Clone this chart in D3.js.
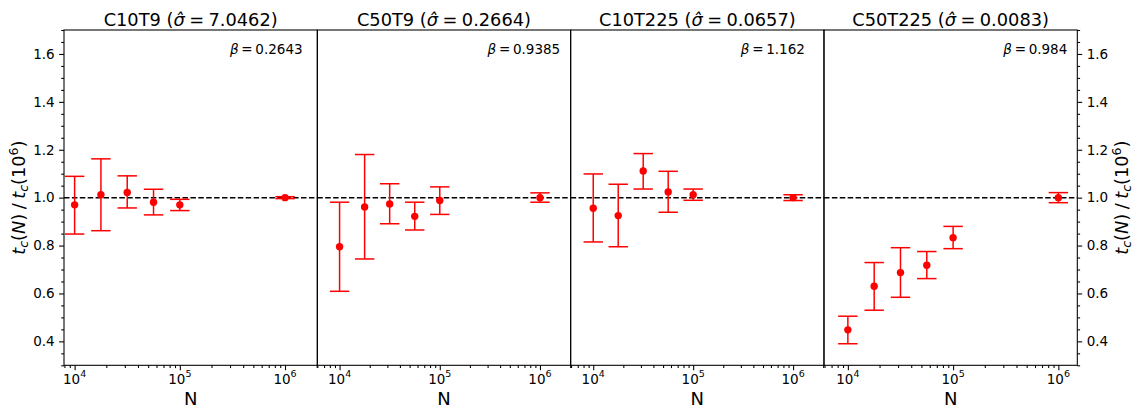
<!DOCTYPE html>
<html><head><meta charset="utf-8">
<script src="https://cdn.jsdelivr.net/npm/d3@7"></script>
<style>
body{margin:0;background:#fff}
svg{display:block}
text{font-family:"DejaVu Sans",sans-serif;fill:#000}
</style>
</head><body>
<svg id="c" width="1133" height="410"></svg>
<script>
// ---- data ----
const N = [1e4, 1.7783e4, 3.1623e4, 5.6234e4, 1e5, 1e6];
const panelNames = ["C10T9", "C50T9", "C10T225", "C50T225"];
const sigmaHat = ["7.0462", "0.2664", "0.0657", "0.0083"];
const betas = ["0.2643", "0.9385", "1.162", "0.984"];

const ratioC10T9   = [0.970, 1.012, 1.022, 0.981, 0.970, 1.000];
const lowC10T9     = [0.848, 0.862, 0.957, 0.928, 0.946, 0.996];
const highC10T9    = [1.089, 1.162, 1.091, 1.035, 0.993, 1.004];

const ratioC50T9   = [0.795, 0.961, 0.974, 0.922, 0.988, 1.000];
const lowC50T9     = [0.609, 0.744, 0.891, 0.865, 0.930, 0.981];
const highC50T9    = [0.981, 1.180, 1.058, 0.981, 1.045, 1.020];

const ratioC10T225 = [0.956, 0.925, 1.111, 1.024, 1.012, 1.000];
const lowC10T225   = [0.815, 0.795, 1.036, 0.939, 0.989, 0.988];
const highC10T225  = [1.099, 1.056, 1.184, 1.110, 1.036, 1.012];

const ratioC50T225 = [0.448, 0.630, 0.687, 0.718, 0.833, 1.000];
const lowC50T225   = [0.390, 0.530, 0.584, 0.662, 0.787, 0.979];
const highC50T225  = [0.505, 0.729, 0.791, 0.775, 0.880, 1.021];

const ratios = [ratioC10T9, ratioC50T9, ratioC10T225, ratioC50T225];
const lows   = [lowC10T9, lowC50T9, lowC10T225, lowC50T225];
const highs  = [highC10T9, highC50T9, highC10T225, highC50T225];

// axis limits (log10 of N) per panel
const xLimLog = [[3.899, 6.307], [3.778, 6.306], [3.774, 6.309], [3.773, 6.180]];
const yLim = [0.3, 1.7];
const yTicks = [0.4, 0.6, 0.8, 1.0, 1.2, 1.4, 1.6];
const xTicks = [1e4, 1e5, 1e6];
const xTickExp = ["4", "5", "6"];
const betaPos = [3e5, 1.6];
const refLine = 1.0;

(function () {
// ---- layout ----
const svg = d3.select("#c");
const plotLeft = 64, plotRight = 1077.3, plotTop = 30, plotBottom = 365.3;
const pw = (plotRight - plotLeft) / 4;
const red = "#ff0000";

const y = d3.scaleLinear().domain(yLim).range([plotBottom, plotTop]);

const yMinor = d3.range(0.3, 1.7001, 0.05).map(v => +v.toFixed(2))
  .filter(v => !yTicks.some(t => Math.abs(t - v) < 1e-6));

panelNames.forEach((name, i) => {
  const x0 = plotLeft + i * pw;
  const x = d3.scaleLog().domain([10 ** xLimLog[i][0], 10 ** xLimLog[i][1]]).range([x0, x0 + pw]);
  const g = svg.append("g");

  // reference dashed line
  g.append("line")
    .attr("x1", x0).attr("x2", x0 + pw)
    .attr("y1", y(refLine)).attr("y2", y(refLine))
    .attr("stroke", "#000").attr("stroke-width", 1.5)
    .attr("stroke-dasharray", "5.5,2.4");

  // error bars
  const cap = 9.7;
  const eb = g.append("g").attr("stroke", red).attr("stroke-width", 1.5);
  N.forEach((n, j) => {
    const cx = x(n);
    eb.append("line").attr("x1", cx).attr("x2", cx).attr("y1", y(lows[i][j])).attr("y2", y(highs[i][j]));
    eb.append("line").attr("x1", cx - cap).attr("x2", cx + cap).attr("y1", y(lows[i][j])).attr("y2", y(lows[i][j]));
    eb.append("line").attr("x1", cx - cap).attr("x2", cx + cap).attr("y1", y(highs[i][j])).attr("y2", y(highs[i][j]));
  });
  g.selectAll("circle.pt").data(N).enter().append("circle")
    .attr("cx", d => x(d)).attr("cy", (d, j) => y(ratios[i][j]))
    .attr("r", 3.7).attr("fill", red);

  // frame
  g.append("rect").attr("x", x0).attr("y", plotTop).attr("width", pw).attr("height", plotBottom - plotTop)
    .attr("fill", "none").attr("stroke", "#000").attr("stroke-width", 1.07);

  // x axis ticks
  const minorX = [];
  for (let d = 3; d <= 6; d++) for (let k = 2; k <= 9; k++) {
    const v = k * 10 ** d;
    if (Math.log10(v) >= xLimLog[i][0] && Math.log10(v) <= xLimLog[i][1]) minorX.push(v);
  }
  const axB = g.append("g").attr("transform", `translate(0,${plotBottom})`)
    .call(d3.axisBottom(x).tickValues(xTicks).tickSize(4.9).tickFormat(""));
  const axBm = g.append("g").attr("transform", `translate(0,${plotBottom})`)
    .call(d3.axisBottom(x).tickValues(minorX).tickSize(2.8).tickFormat(""));
  [axB, axBm].forEach(a => {
    a.select(".domain").remove();
    a.selectAll("line").attr("stroke", "#000").attr("stroke-width", 1.07);
  });
  xTicks.forEach((v, k) => {
    const t = g.append("text").attr("x", x(v)).attr("y", 383.5)
      .attr("text-anchor", "middle").attr("font-size", "13.5px");
    t.append("tspan").text("10");
    t.append("tspan").attr("dy", -6.5).attr("font-size", "9.5px").text(xTickExp[k]);
  });

  // x label
  g.append("text").attr("x", x0 + pw / 2).attr("y", 405)
    .attr("text-anchor", "middle").attr("font-size", "18px").text("N");

  // title
  const tt = g.append("text").attr("x", x0 + pw / 2).attr("y", 26)
    .attr("text-anchor", "middle").attr("font-size", "17.8px");
  tt.append("tspan").text(name + " (");
  tt.append("tspan").attr("font-style", "italic").text("\u03C3\u0302");
  tt.append("tspan").text("\u2005=\u2005" + sigmaHat[i] + ")");

  // beta annotation
  const bt = g.append("text").attr("x", x(betaPos[0])).attr("y", y(betaPos[1]))
    .attr("font-size", "13.5px");
  bt.append("tspan").attr("font-style", "italic").text("\u03B2");
  bt.append("tspan").text("\u2009=\u2009" + betas[i]);

  // y axes on outer panels
  if (i === 0 || i === 3) {
    const isLeft = i === 0;
    const xPos = isLeft ? x0 : x0 + pw;
    const mk = isLeft ? d3.axisLeft : d3.axisRight;
    const ay = g.append("g").attr("transform", `translate(${xPos},0)`)
      .call(mk(y).tickValues(yTicks).tickSize(4.9).tickPadding(4.5).tickFormat(d3.format(".1f")));
    const aym = g.append("g").attr("transform", `translate(${xPos},0)`)
      .call(mk(y).tickValues(yMinor).tickSize(2.8).tickFormat(""));
    [ay, aym].forEach(a => {
      a.select(".domain").remove();
      a.selectAll("line").attr("stroke", "#000").attr("stroke-width", 1.07);
    });
    ay.selectAll("text").attr("font-size", "13.5px").attr("font-family", "DejaVu Sans").attr("fill", "#000");

    // y label
    const lx = isLeft ? 25 : 1128;
    const yl = g.append("text")
      .attr("transform", `translate(${lx},${(plotTop + plotBottom) / 2}) rotate(-90)`)
      .attr("text-anchor", "middle").attr("font-size", "17.8px");
    yl.append("tspan").attr("font-style", "italic").text("t");
    yl.append("tspan").attr("font-style", "italic").attr("font-size", "12.5px").attr("dy", 3).text("c");
    yl.append("tspan").attr("dy", -3).text("(");
    yl.append("tspan").attr("font-style", "italic").text("N");
    yl.append("tspan").text(")\u2005/\u2005");
    yl.append("tspan").attr("font-style", "italic").text("t");
    yl.append("tspan").attr("font-style", "italic").attr("font-size", "12.5px").attr("dy", 3).text("c");
    yl.append("tspan").attr("dy", -3).text("(10");
    yl.append("tspan").attr("font-size", "12.5px").attr("dy", -7.5).text("6");
    yl.append("tspan").attr("dy", 7.5).text(")");
  }
});
})();
</script>
</body></html>
